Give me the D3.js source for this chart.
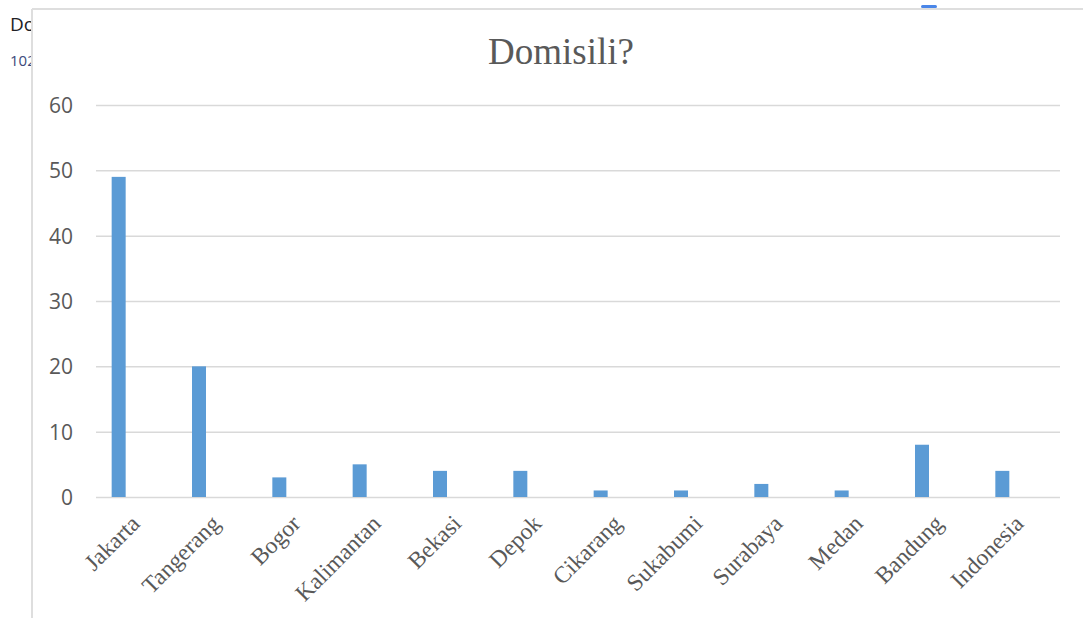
<!DOCTYPE html>
<html>
<head>
<meta charset="utf-8">
<script src="https://cdn.jsdelivr.net/npm/d3@7"></script>
<style>
  body { margin: 0; background: #fff; }
  svg { display: block; }
  .y-axis text { font-family: "Open Sans", sans-serif; font-size: 21px; fill: #595959; }
  .x-axis text { font-family: "Liberation Serif", serif; font-size: 23.5px; fill: #595959; }
</style>
</head>
<body>
<div id="chart"></div>
<script>
// data
const categories = ['Jakarta', 'Tangerang', 'Bogor', 'Kalimantan', 'Bekasi', 'Depok',
  'Cikarang', 'Sukabumi', 'Surabaya', 'Medan', 'Bandung', 'Indonesia'];
const counts = [49, 20, 3, 5, 4, 4, 1, 1, 2, 1, 8, 4];
const yTicks = [0, 10, 20, 30, 40, 50, 60];

const width = 1083, height = 618;
const margin = {top: 105, right: 23, bottom: 121, left: 96};
const innerW = width - margin.left - margin.right;
const innerH = height - margin.top - margin.bottom;

const svg = d3.select('#chart').append('svg')
  .attr('width', width)
  .attr('height', height);

// page header behind the chart panel (form heading, cut off by the panel)
svg.append('text')
  .attr('x', 10).attr('y', 31)
  .style('font-family', '"Open Sans", sans-serif')
  .style('font-size', '19px')
  .style('fill', '#202124')
  .text('Domisili?');
svg.append('text')
  .attr('x', 10).attr('y', 66)
  .style('font-family', '"Open Sans", sans-serif')
  .style('font-size', '15px')
  .style('fill', '#3c4a7a')
  .text('102 tanggapan');

// small blue handle above panel
svg.append('rect')
  .attr('x', 921).attr('y', 5).attr('width', 16).attr('height', 3).attr('rx', 1.5)
  .attr('fill', '#4a86e8');

// white chart panel with border on left/top
svg.append('rect')
  .attr('x', 32).attr('y', 9).attr('width', width).attr('height', height)
  .attr('fill', '#fff');
svg.append('line')
  .attr('x1', 32).attr('x2', 32).attr('y1', 9).attr('y2', height)
  .attr('stroke', '#dedede').attr('stroke-width', 2);
svg.append('line')
  .attr('x1', 32).attr('x2', width).attr('y1', 9).attr('y2', 9)
  .attr('stroke', '#dedede').attr('stroke-width', 2);

// title
svg.append('text')
  .attr('x', 561).attr('y', 64)
  .attr('text-anchor', 'middle')
  .style('font-family', '"Liberation Serif", serif')
  .style('font-size', '37px')
  .style('fill', '#595959')
  .text('Domisili?');

const chart = svg.append('g')
  .attr('transform', `translate(${margin.left},${margin.top})`);

const x = d3.scaleBand().domain(categories).range([0, innerW]);
const y = d3.scaleLinear().domain([0, 60]).range([innerH, 0]);

// gridlines
const yAxis = d3.axisLeft(y)
  .tickValues(yTicks)
  .tickSize(-innerW)
  .tickPadding(23);
chart.append('g')
  .attr('class', 'axis y-axis')
  .call(yAxis)
  .call(g => g.select('.domain').remove())
  .call(g => g.selectAll('.tick line').attr('stroke', '#d9d9d9').attr('stroke-width', 1.5))
  .call(g => g.selectAll('.tick text').attr('dy', '0.36em'));

// bars (first slot of an Excel style cluster)
const barW = 14;
const barOffset = x.bandwidth() * 0.195;
chart.selectAll('.bar')
  .data(categories.map((c, i) => ({cat: c, v: counts[i]})))
  .join('rect')
  .attr('class', 'bar')
  .attr('x', d => x(d.cat) + barOffset)
  .attr('y', d => y(d.v))
  .attr('width', barW)
  .attr('height', d => y(0) - y(d.v))
  .attr('fill', '#5b9bd5');

// x axis labels
const xAxis = d3.axisBottom(x).tickSize(0).tickPadding(0);
chart.append('g')
  .attr('class', 'axis x-axis')
  .attr('transform', `translate(0,${innerH})`)
  .call(xAxis)
  .call(g => g.select('.domain').remove())
  .call(g => g.selectAll('.tick text')
    .attr('text-anchor', 'end')
    .attr('dy', 0)
    .attr('transform', 'translate(5,28) rotate(-45)'));
</script>
</body>
</html>
